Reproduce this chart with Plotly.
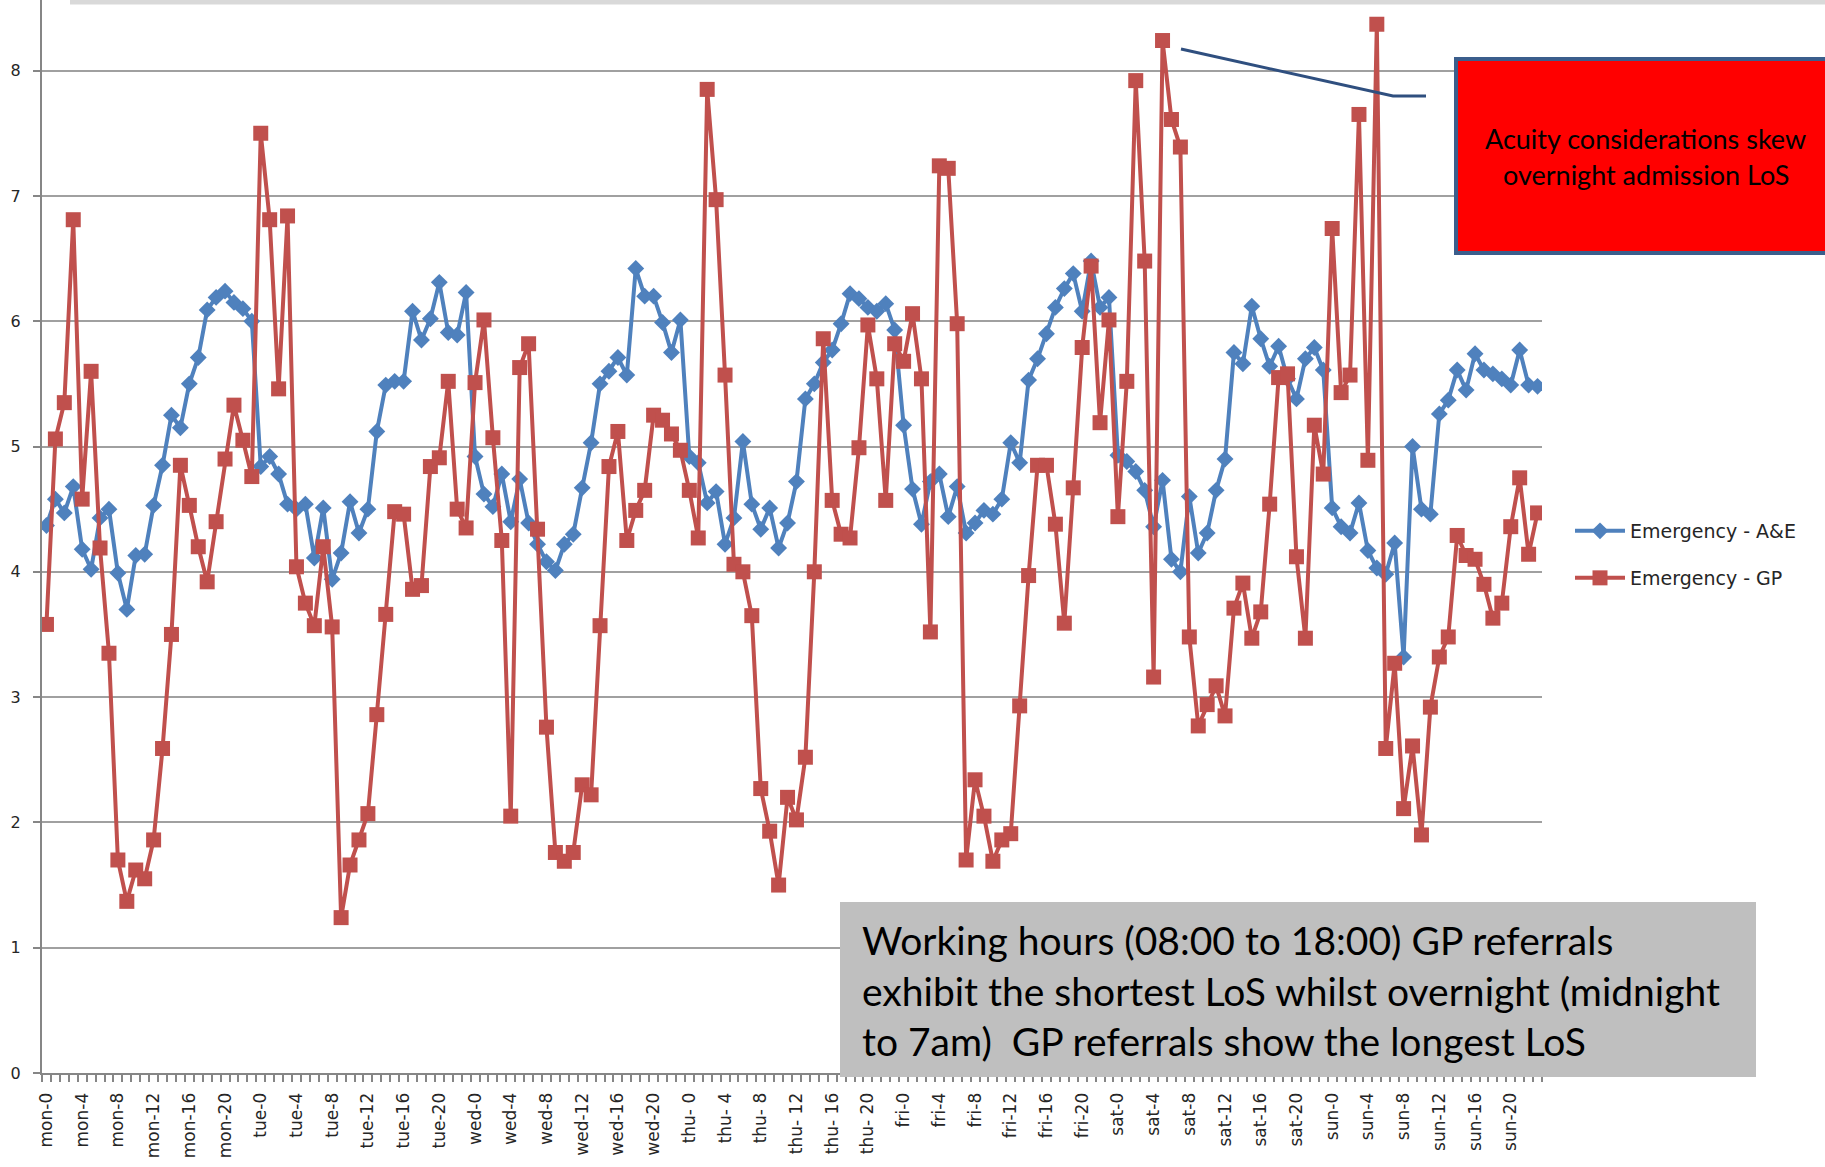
import plotly.graph_objects as go

# ---------------- data ----------------
days = ["mon", "tue", "wed", "thu", "fri", "sat", "sun"]
hours = list(range(24))
categories = [f"{d}-{h}" for d in days for h in hours]

tick_labels = [
    "mon-0", "mon-4", "mon-8", "mon-12", "mon-16", "mon-20",
    "tue-0", "tue-4", "tue-8", "tue-12", "tue-16", "tue-20",
    "wed-0", "wed-4", "wed-8", "wed-12", "wed-16", "wed-20",
    "thu- 0", "thu- 4", "thu- 8", "thu- 12", "thu- 16", "thu- 20",
    "fri-0", "fri-4", "fri-8", "fri-12", "fri-16", "fri-20",
    "sat-0", "sat-4", "sat-8", "sat-12", "sat-16", "sat-20",
    "sun-0", "sun-4", "sun-8", "sun-12", "sun-16", "sun-20",
]

ae_mon = [4.37, 4.58, 4.47, 4.68, 4.18, 4.02, 4.43, 4.50, 3.99, 3.70, 4.13, 4.14,
          4.53, 4.85, 5.25, 5.15, 5.50, 5.71, 6.09, 6.19, 6.24, 6.15, 6.10, 6.00]
ae_tue = [4.84, 4.92, 4.78, 4.54, 4.50, 4.54, 4.11, 4.51, 3.94, 4.15, 4.56, 4.31,
          4.50, 5.12, 5.49, 5.52, 5.52, 6.08, 5.85, 6.02, 6.31, 5.91, 5.89, 6.23]
ae_wed = [4.92, 4.62, 4.52, 4.78, 4.40, 4.74, 4.39, 4.22, 4.08, 4.01, 4.22, 4.30,
          4.67, 5.03, 5.50, 5.60, 5.71, 5.57, 6.42, 6.20, 6.20, 5.99, 5.75, 6.01]
ae_thu = [4.92, 4.87, 4.55, 4.64, 4.22, 4.43, 5.04, 4.54, 4.34, 4.51, 4.19, 4.39,
          4.72, 5.38, 5.50, 5.67, 5.77, 5.98, 6.22, 6.18, 6.11, 6.08, 6.14, 5.93]
ae_fri = [5.17, 4.66, 4.38, 4.72, 4.78, 4.44, 4.68, 4.31, 4.39, 4.49, 4.46, 4.58,
          5.03, 4.87, 5.53, 5.70, 5.90, 6.11, 6.26, 6.38, 6.08, 6.48, 6.11, 6.19]
ae_sat = [4.93, 4.88, 4.80, 4.65, 4.36, 4.73, 4.10, 4.00, 4.60, 4.15, 4.31, 4.65,
          4.90, 5.75, 5.66, 6.12, 5.86, 5.64, 5.80, 5.54, 5.38, 5.70, 5.79, 5.61]
ae_sun = [4.51, 4.36, 4.31, 4.55, 4.17, 4.03, 3.98, 4.23, 3.32, 5.00, 4.50, 4.46,
          5.26, 5.37, 5.61, 5.45, 5.74, 5.61, 5.58, 5.54, 5.49, 5.77, 5.49, 5.48]

gp_mon = [3.58, 5.06, 5.35, 6.81, 4.58, 5.60, 4.19, 3.35, 1.70, 1.37, 1.62, 1.55,
          1.86, 2.59, 3.50, 4.85, 4.53, 4.20, 3.92, 4.40, 4.90, 5.33, 5.05, 4.76]
gp_tue = [7.50, 6.81, 5.46, 6.84, 4.04, 3.75, 3.57, 4.20, 3.56, 1.24, 1.66, 1.86,
          2.07, 2.86, 3.66, 4.48, 4.46, 3.86, 3.89, 4.84, 4.91, 5.52, 4.50, 4.35]
gp_wed = [5.51, 6.01, 5.07, 4.25, 2.05, 5.63, 5.82, 4.34, 2.76, 1.76, 1.69, 1.76,
          2.30, 2.22, 3.57, 4.84, 5.12, 4.25, 4.49, 4.65, 5.25, 5.21, 5.10, 4.97]
gp_thu = [4.65, 4.27, 7.85, 6.97, 5.57, 4.06, 4.00, 3.65, 2.27, 1.93, 1.50, 2.20,
          2.02, 2.52, 4.00, 5.86, 4.57, 4.30, 4.27, 4.99, 5.97, 5.54, 4.57, 5.82]
gp_fri = [5.68, 6.06, 5.54, 3.52, 7.24, 7.22, 5.98, 1.70, 2.34, 2.05, 1.69, 1.86,
          1.91, 2.93, 3.97, 4.85, 4.85, 4.38, 3.59, 4.67, 5.79, 6.44, 5.19, 6.01]
gp_sat = [4.44, 5.52, 7.92, 6.48, 3.16, 8.24, 7.61, 7.39, 3.48, 2.77, 2.94, 3.09,
          2.85, 3.71, 3.91, 3.47, 3.68, 4.54, 5.55, 5.58, 4.12, 3.47, 5.17, 4.78]
gp_sun = [6.74, 5.43, 5.57, 7.65, 4.89, 8.37, 2.59, 3.27, 2.11, 2.61, 1.90, 2.92,
          3.32, 3.48, 4.29, 4.13, 4.10, 3.90, 3.63, 3.75, 4.36, 4.75, 4.14, 4.47]

ae = ae_mon + ae_tue + ae_wed + ae_thu + ae_fri + ae_sat + ae_sun
gp = gp_mon + gp_tue + gp_wed + gp_thu + gp_fri + gp_sat + gp_sun
x = list(range(len(categories)))

BLUE = "#4F81BD"
RED = "#C0504D"
GRID = "#A0A0A0"
AXIS = "#868686"

# ---------------- figure ----------------
W, H = 1825, 1167
ML, MR, MT, MB = 42, 283, 0, 94
PW, PH = W - ML - MR, H - MT - MB
Y_TOP = PH / 125.3  # axis top sits at the top edge of the image


def px(v):
    return (v - ML) / PW


def py(v):
    return (H - MB - v) / PH


fig = go.Figure()
fig.add_trace(go.Scatter(
    x=x, y=ae, customdata=categories, name="Emergency - A&E", mode="lines+markers",
    line=dict(color=BLUE, width=4),
    marker=dict(symbol="diamond", size=13, color=BLUE),
    legend="legend",
    hovertemplate="%{customdata}: %{y}<extra>Emergency - A&E</extra>",
))
fig.add_trace(go.Scatter(
    x=x, y=gp, customdata=categories, name="Emergency - GP", mode="lines+markers",
    line=dict(color=RED, width=4),
    marker=dict(symbol="square", size=15, color=RED),
    legend="legend2",
    hovertemplate="%{customdata}: %{y}<extra>Emergency - GP</extra>",
))

xtick_font = dict(family="DejaVu Sans", size=17, color="#262626")
ytick_font = dict(family="DejaVu Sans", size=16, color="#262626")
leg_font = dict(family="DejaVu Sans", size=19, color="#262626")

fig.update_layout(
    width=W, height=H,
    margin=dict(l=ML, r=MR, t=MT, b=MB, pad=0),
    paper_bgcolor="white", plot_bgcolor="white",
    font=dict(family="DejaVu Sans", size=15, color="#262626"),
    legend=dict(x=px(1570), y=py(531), xanchor="left", yanchor="middle",
                font=leg_font, bgcolor="rgba(0,0,0,0)", itemwidth=50),
    legend2=dict(x=px(1570), y=py(578), xanchor="left", yanchor="middle",
                 font=leg_font, bgcolor="rgba(0,0,0,0)", itemwidth=50),
    xaxis=dict(
        range=[-0.5, len(categories) - 0.5],
        tickmode="array",
        tickvals=list(range(0, len(categories), 4)),
        ticktext=tick_labels,
        tickangle=-90,
        ticks="",
        ticklabelstandoff=11,
        tickfont=xtick_font,
        showgrid=False, zeroline=False,
        showline=True, linecolor=AXIS, linewidth=2,
        minor=dict(ticks="outside", tick0=-0.5, dtick=1, ticklen=7,
                   tickcolor=AXIS, tickwidth=1.5, showgrid=False),
        automargin=False,
    ),
    yaxis=dict(
        range=[0, Y_TOP],
        tickmode="linear", tick0=0, dtick=1,
        ticks="outside", ticklen=7, tickcolor=AXIS, tickwidth=1.5,
        ticklabelstandoff=9,
        tickfont=ytick_font,
        showgrid=True, gridcolor=GRID, gridwidth=1.5,
        zeroline=False,
        showline=True, linecolor=AXIS, linewidth=2,
        automargin=False,
    ),
    showlegend=True,
)

shapes = [
    # light frame line at the very top
    dict(type="line", xref="paper", yref="paper", x0=px(70), x1=px(1830), y0=py(2), y1=py(2),
         line=dict(color="#D9D9D9", width=5), layer="above"),
    # grey note box
    dict(type="rect", xref="paper", yref="paper", x0=px(840), x1=px(1756), y0=py(1077), y1=py(902),
         fillcolor="#BFBFBF", line=dict(width=0), layer="above"),
    # red callout box
    dict(type="rect", xref="paper", yref="paper", x0=px(1456), x1=px(1840), y0=py(253), y1=py(59),
         fillcolor="#FF0000", line=dict(color="#3B5E8C", width=4), layer="above"),
    # connector line
    dict(type="path", xref="paper", yref="paper",
         path=f"M {px(1181)} {py(49)} L {px(1393)} {py(96)} L {px(1426)} {py(96)}",
         line=dict(color="#2F4F7F", width=3), layer="above"),
]
fig.update_layout(shapes=shapes)

grey_lines = [
    "Working hours (08:00 to 18:00) GP referrals",
    "exhibit the shortest LoS whilst overnight (midnight",
    "to 7am)  GP referrals show the longest LoS",
]
grey_y = [940, 991, 1041]
red_lines = ["Acuity considerations skew", "overnight admission LoS"]
red_y = [139, 175]

annotations = []
for txt, yy in zip(grey_lines, grey_y):
    annotations.append(dict(xref="paper", yref="paper", x=px(860), y=py(yy), xanchor="left",
                            yanchor="middle", showarrow=False, text=txt.replace("  ", "&nbsp; "),
                            font=dict(family="Lato", size=39, color="#000000")))
for txt, yy in zip(red_lines, red_y):
    annotations.append(dict(xref="paper", yref="paper", x=px(1646), y=py(yy), xanchor="center",
                            yanchor="middle", showarrow=False, text=txt,
                            font=dict(family="Lato", size=27, color="#000000")))
fig.update_layout(annotations=annotations)

fig.write_html("out.html", config={"displayModeBar": False},
               post_script="document.body.style.margin='0';document.body.style.overflow='hidden';")
